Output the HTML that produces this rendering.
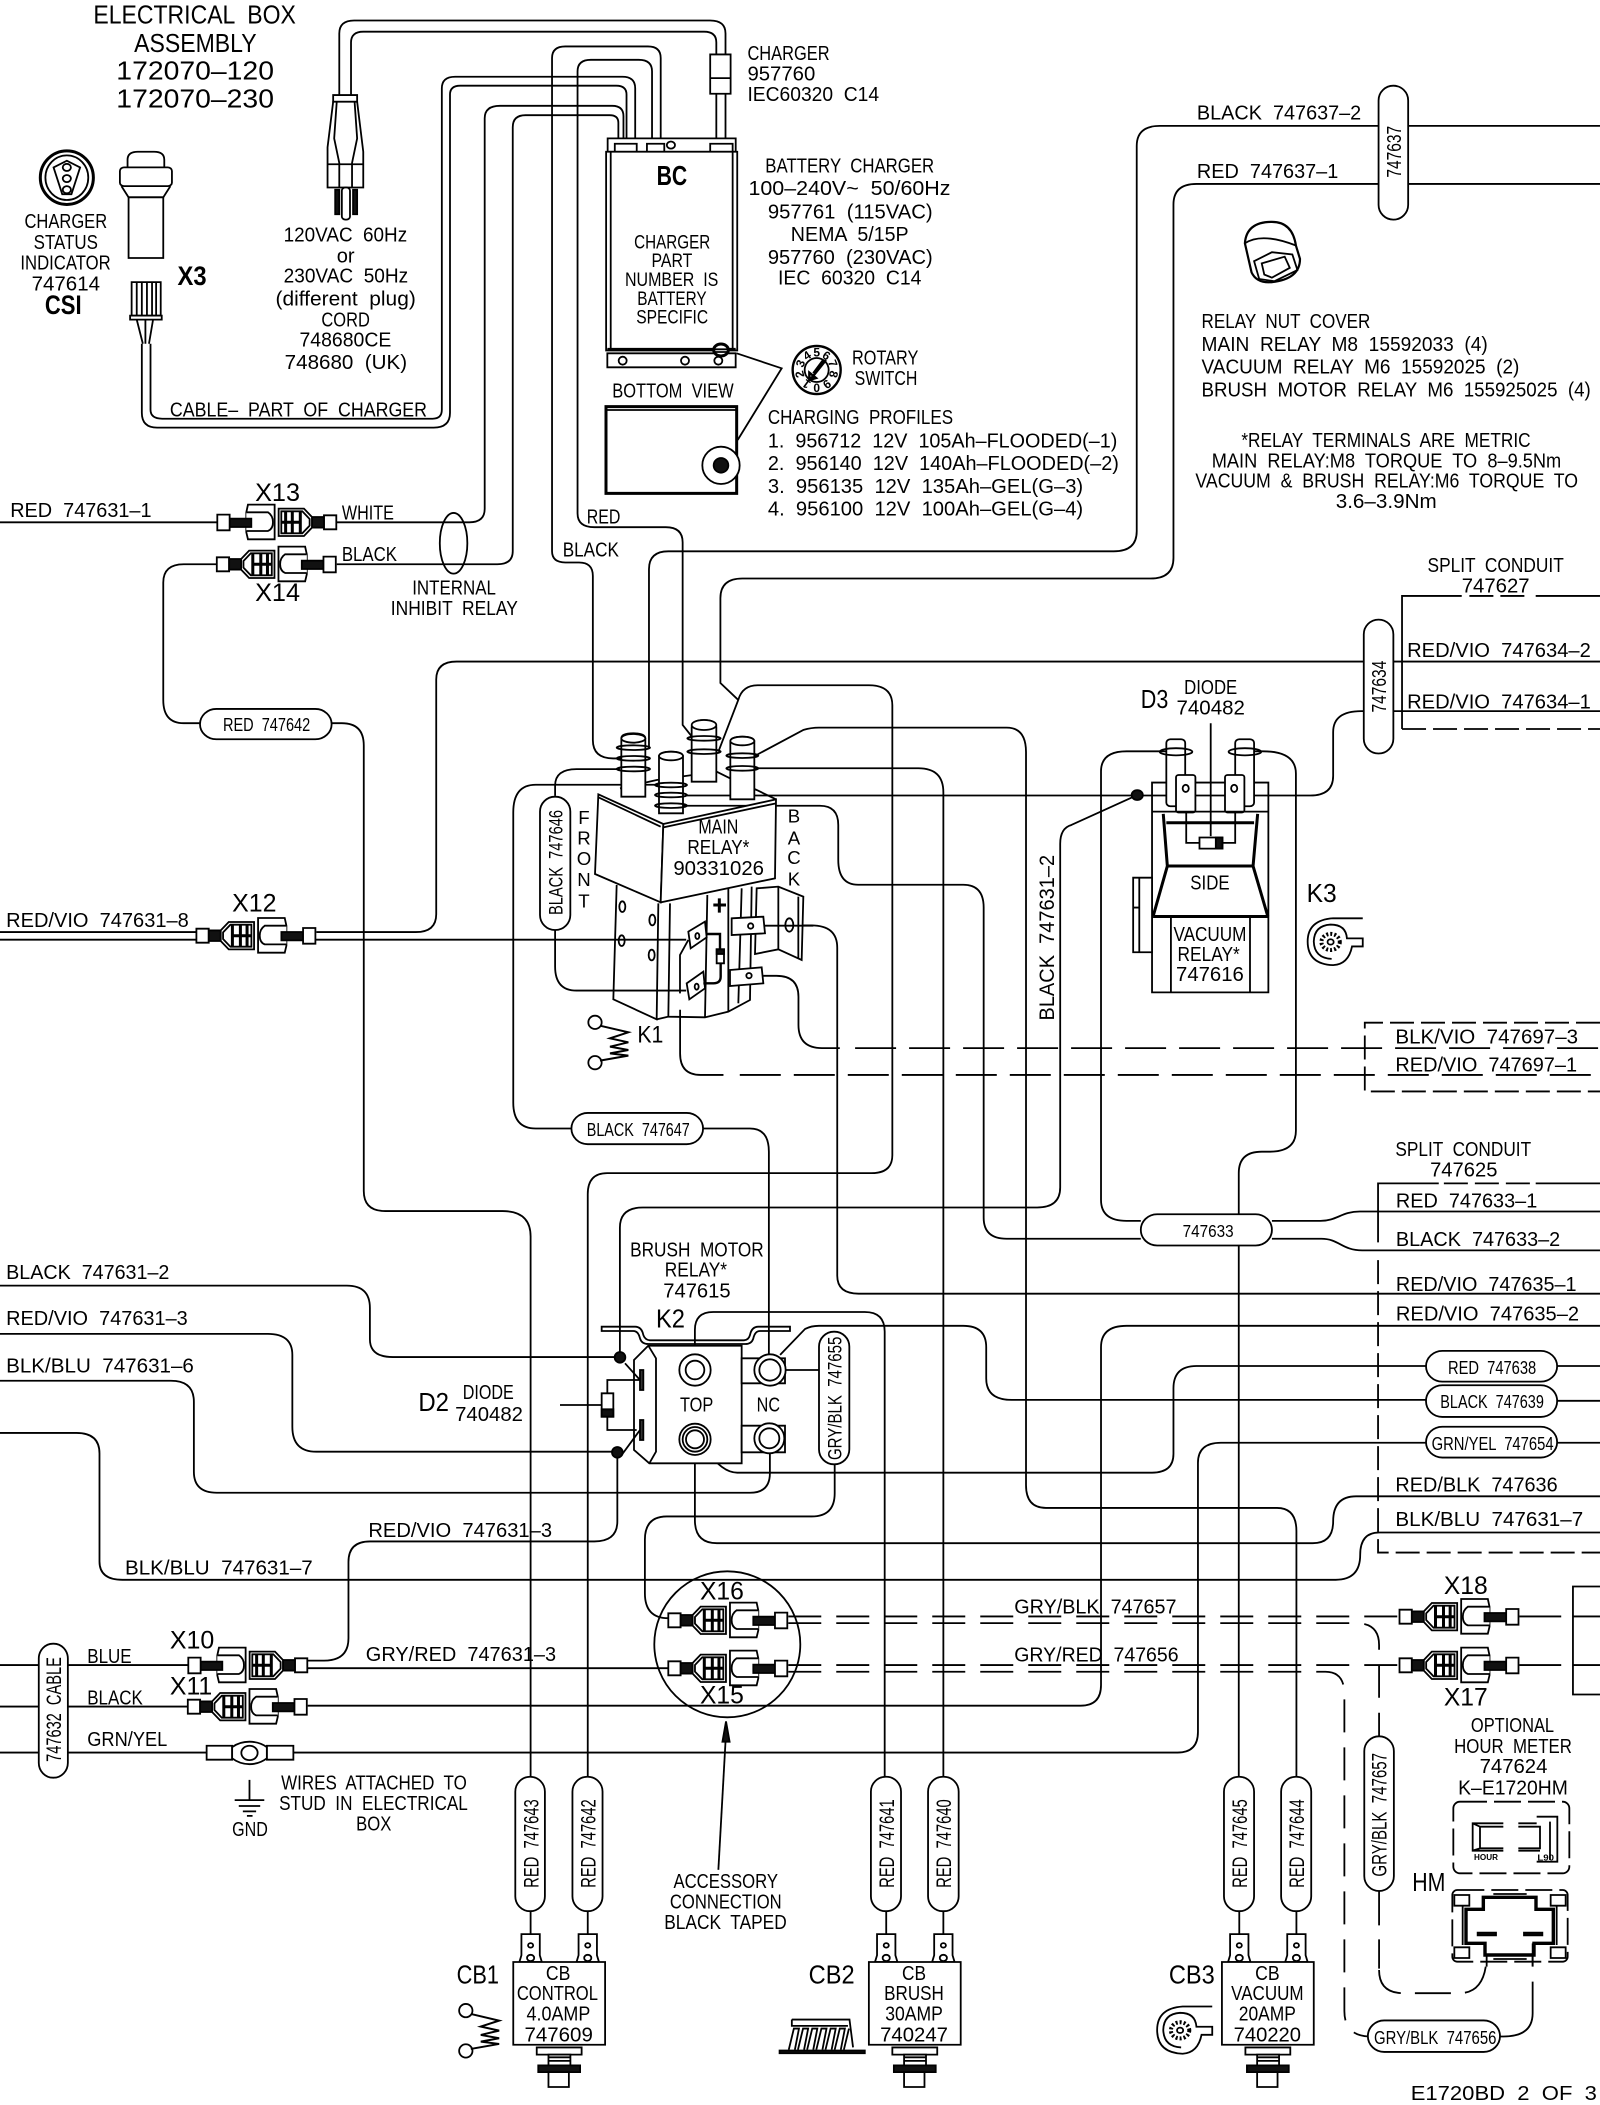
<!DOCTYPE html>
<html><head><meta charset="utf-8"><title>E1720BD wiring diagram</title>
<style>
html,body{margin:0;padding:0;background:#fff}
svg{display:block}
path,rect,ellipse,circle,line,polygon,polyline{vector-effect:non-scaling-stroke}
path,polyline,line{fill:none}
path,rect,ellipse,circle,line,polygon,polyline{stroke:#000;stroke-width:1.8}
text{font-family:"Liberation Sans",sans-serif;font-size:46px;fill:#000;stroke:none;white-space:pre}
.w{fill:#fff}
.n{fill:none}
.k{fill:#111}
.t{stroke-width:3}
.d path,path.d{stroke-dasharray:33 15}
path.s{stroke-dasharray:24 7}
</style></head><body>
<svg xmlns="http://www.w3.org/2000/svg" width="1600" height="2105" viewBox="0 0 1600 2105">
<defs>
<g id="conn">
<rect class="w" x="0" y="-21" width="37" height="42"/>
<rect class="k" x="37" y="-16" width="36" height="32"/>
<polygon class="w" points="73,-16 97,-41 173,-41 173,41 97,41 73,16"/>
<polygon class="n" points="80,-10 102,-33 165,-33 165,33 102,33 80,10"/>
<path class="t" d="M108 -33V33M132 -33V33M152 -33V33M108 0H165"/>
<polygon class="w" points="185,-53 265,-53 270,-30 270,30 265,51 185,51"/>
<path class="w" d="M270 -30H205Q190 -20 190 0Q190 20 205 26H270"/>
<rect class="k" x="255" y="-11" width="65" height="25"/>
<rect class="w" x="320" y="-23" width="37" height="47"/>
</g>
<g id="coil">
<circle class="w" cx="0" cy="0" r="20"/><circle class="w" cx="0" cy="121" r="20"/>
<path d="M15 10L100 30L45 48L100 60L45 73L100 83L45 93L100 100L15 115" style="stroke-width:2"/>
</g>
<g id="bl">
<path d="M1103 489H1045Q995 493 995 541Q995 592 1045 594Q1075 592 1082 552H1103V534H1072Q1070 503 1040 503Q1008 505 1007 541Q1008 578 1042 580"/>
<circle class="n" cx="1040" cy="542" r="18" style="stroke-width:4;stroke-dasharray:2 2"/>
<circle class="w" cx="1040" cy="542" r="6"/>
</g>
<g id="cb">
<path d="M34 1137V1188M146 1137V1188"/>
<polygon class="w" points="16,1188 52,1188 52,1235 56,1250 12,1250 16,1235"/>
<polygon class="w" points="128,1188 164,1188 164,1235 168,1250 124,1250 128,1235"/>
<circle class="w" cx="34" cy="1213" r="5"/><circle class="w" cx="146" cy="1213" r="5"/>
<circle class="w" cx="34" cy="1241" r="7"/><circle class="w" cx="146" cy="1241" r="7"/>
<rect class="w" x="0" y="1250" width="180" height="184"/>
<rect class="w" x="46" y="1440" width="88" height="16"/>
<rect class="w" x="69" y="1456" width="43" height="24"/>
<path d="M69 1462H112M69 1470H112"/>
<rect class="k" x="49" y="1480" width="82" height="15"/>
<rect class="w" x="69" y="1495" width="40" height="33"/>
</g>
</defs>

<!-- wires in zoom-space -->
<g transform="scale(.5102,.4464)">
<path d="M665 213V75Q665 46 694 46H1392Q1422 46 1422 75V122"/>
<path d="M688 213V95Q688 71 712 71H1380Q1404 71 1404 95V122"/>
<path d="M1404 210V320M1422 210V320"/>
<path d="M295 770V918Q295 938 318 938H848Q866 938 866 918V198Q866 172 892 172H1220Q1245 172 1245 198V322"/>
<path d="M278 770V925Q278 958 308 958H850Q882 958 882 925V212Q882 192 902 192H1208Q1228 192 1228 212V322"/>
<path d="M660 1170H920Q950 1170 950 1140V265Q950 237 980 237H1200Q1222 237 1222 260V322"/>
<path d="M660 1264H975Q1005 1264 1005 1235V285Q1005 258 1030 258H1195Q1212 258 1212 275V322"/>
<path d="M1295 322V130Q1295 104 1270 104H1108Q1082 104 1082 130V1235Q1082 1260 1108 1260H1135Q1162 1260 1162 1290V1658Q1162 1699 1202 1699H1218"/>
<path d="M1278 322V160Q1278 134 1252 134H1158Q1132 134 1132 160V1150Q1132 1181 1165 1181H1305Q1338 1181 1338 1215V1624L1356 1650"/>
<path d="M2702 282H2273Q2228 282 2228 327V1190Q2228 1235 2183 1235H1310Q1272 1235 1272 1275V1678"/>
<path d="M2760 282H3136M2760 412H3136"/>
<path d="M2702 412H2345Q2300 412 2300 458V1250Q2300 1296 2255 1296H1455Q1412 1296 1412 1340V1530L1447 1568"/>
<path d="M1408 1684L1447 1568Q1455 1535 1485 1535H1703Q1749 1535 1749 1580V2588Q1749 2628 1708 2628H1190Q1152 2628 1152 2675V3980"/>
<path d="M0 1170H425"/>
<path d="M425 1264H360Q320 1264 320 1305V1568Q320 1620 360 1620H392"/>
<path d="M650 1620H670Q713 1620 713 1670V2668Q713 2713 755 2713H985Q1040 2713 1040 2770V3980"/>
<path d="M620 2088H815Q855 2088 855 2048V1522Q855 1482 895 1482H2673"/>
<path d="M2731 1482H3136M2731 1593H3136"/>
<path d="M0 2088H385M0 2105H385M618 2105H1345"/>
<path d="M1088 1783V1760Q1088 1723 1130 1723H1215"/>
<path d="M1088 2083V2165Q1088 2219 1130 2219H1345"/>
<path d="M1120 2528H1050Q1006 2528 1006 2470V1820Q1006 1758 1050 1758H1290"/>
<path d="M1378 2528H1470Q1507 2528 1507 2580V3040"/>
<path d="M1480 1693L1575 1635Q1590 1630 1605 1630H1973Q2011 1630 2011 1685V3327Q2011 3378 2050 3378H2503Q2541 3378 2541 3430V3980"/>
<path d="M1480 1721H1800Q1849 1721 1849 1775V3980"/>
<path d="M1343 1782H2568Q2613 1782 2613 1738V1640Q2613 1593 2668 1593H2673"/>
<path d="M1339 1805H1607Q1643 1805 1643 1848V1926Q1643 1982 1682 1982H1888Q1928 1982 1928 2033V2728Q1928 2775 1973 2775H2236"/>
<path d="M2236 2735H2208Q2158 2735 2158 2688V1728Q2158 1683 2208 1683H2285"/>
<path d="M2448 1683H2475Q2540 1683 2540 1733V2533Q2540 2580 2488 2580H2473Q2428 2580 2428 2628V3980"/>
<path d="M2493 2735H2588C2620 2735 2630 2714 2665 2714H3136"/>
<path d="M2493 2775H2590C2625 2775 2630 2801 2670 2801H3136"/>
<path d="M1499 2073H1590Q1641 2073 1641 2123V2858Q1641 2898 1683 2898H3136"/>
<path d="M1496 2186H1522Q1565 2186 1565 2233V2296Q1565 2348 1611 2348H1646"/>
<path d="M1333 2262V2360Q1333 2408 1373 2408H1418"/>
<path class="d" style="stroke-dasharray:41 13" d="M1676 2348H3136"/>
<path class="d" style="stroke-dasharray:41 13" d="M1450 2408H3136"/>
<path class="s" d="M3136 2291H2675V2445H3136"/>
<path d="M2748 1437V1335H2865M3010 1335H3136"/>
<path class="s" d="M2748 1633H3136"/>
<path class="s" d="M2880 1335H3000"/>
<path d="M2701 2783V2651H2820M3010 2651H3136"/>
<path class="s" d="M2701 2823V3478H3136"/>
<path class="s" d="M2830 2651H3000"/>
<path d="M2748 1437V1633"/>
<path d="M0 2880H680Q725 2880 725 2930V3000Q725 3040 770 3040H1215"/>
<path d="M1215 3040V2750Q1215 2705 1260 2705H2033Q2078 2705 2078 2660V1890Q2078 1855 2100 1848L2229 1781"/>
<path d="M0 2988H525Q573 2988 573 3035V3196Q573 3252 620 3252H1210"/>
<path d="M1210 3252V3408Q1210 3453 1165 3453H725Q683 3453 683 3499V3670Q683 3720 635 3720H603"/>
<path d="M0 3093H335Q380 3093 380 3140V3297Q380 3344 425 3344H1470Q1509 3344 1509 3300V3255"/>
<path d="M0 3210H150Q195 3210 195 3256V3498Q195 3539 240 3539H2618Q2666 3539 2666 3483Q2666 3433 2703 3433H3136"/>
<path d="M1362 3255V3405Q1362 3457 1405 3457H2573Q2613 3457 2613 3408Q2613 3352 2658 3352H3136"/>
<path d="M1385 3248Q1415 3299 1445 3299H2258Q2300 3299 2300 3257V3110Q2300 3060 2345 3060H2795"/>
<path d="M3052 3060H3136M3052 3138H3136M3052 3232H3136"/>
<path d="M1362 3035V2979Q1362 2939 1398 2939H1695Q1734 2939 1734 2983V3980"/>
<path d="M1529 3035L1578 2977Q1590 2970 1605 2970H1888Q1933 2970 1933 3018V3088Q1933 3136 1983 3136H2795"/>
<path d="M3136 2970H2208Q2158 2970 2158 3018V3775Q2158 3821 2118 3821H603"/>
<path d="M575 3926H2308Q2348 3926 2348 3880V3277Q2348 3232 2393 3232H2795"/>
<path d="M0 3730H76M133 3730H368M0 3823H76M133 3823H368M0 3926H76M133 3926H405"/>
<path d="M603 3737H1310"/>
<path d="M1636 3280V3345Q1636 3397 1591 3397H1307Q1264 3397 1264 3449V3569Q1264 3625 1310 3625"/>
<path class="d" d="M1545 3621H2743"/>
<path class="d" d="M1545 3636H2658Q2703 3636 2703 3685V3890"/>
<path class="d" d="M1545 3730H2743"/>
<path class="d" d="M1545 3745H2598Q2635 3745 2635 3795V4505Q2635 4560 2683 4562"/>
<path d="M2978 3621H3060M3083 3621H3136M2978 3730H3060M3083 3730H3136"/>
<path d="M3136 3554H3083V3796H3136"/>
<path class="d" style="stroke-dasharray:34 14" d="M2703 4237V4410"/>
<path class="d" style="stroke-dasharray:36 14" d="M2703 4413Q2703 4465 2751 4465H2860Q2914 4465 2914 4375"/>
<path d="M3004 4375V4405"/>
<path d="M3004 4439V4510Q3004 4562 2947 4562H2940"/>
</g>

<!-- top-left quadrant components -->
<g transform="scale(.5102,.4464)">
<rect class="w" x="1392" y="122" width="40" height="88"/><path d="M1392 175H1432"/>
<rect class="w" x="653" y="213" width="47" height="15"/>
<path class="w" d="M653 228L642 330V420H712V340L700 228Z"/>
<path d="M660 228L655 310L665 365V420M695 228L700 310L690 365V420M642 368H712"/>
<rect class="k" x="657" y="425" width="8" height="55"/><rect class="k" x="692" y="425" width="8" height="55"/>
<rect class="w" x="670" y="420" width="16" height="72" rx="7"/>
<ellipse class="n t" cx="131" cy="398" rx="52" ry="60"/><ellipse class="n" cx="131" cy="398" rx="42" ry="50"/>
<path d="M105 375L131 360L157 375L140 435H122Z"/>
<circle class="n" cx="131" cy="375" r="8"/><circle class="n" cx="131" cy="400" r="8"/><circle class="n" cx="131" cy="425" r="8"/>
<path d="M250 375V358Q250 340 270 340H302Q322 340 322 358V375Z"/>
<rect class="w" x="235" y="375" width="102" height="42" rx="8"/>
<path d="M238 417L252 442H320L334 417"/>
<rect class="w" x="252" y="442" width="68" height="136"/>
<rect class="w" x="258" y="632" width="57" height="75"/>
<path d="M268 632V707M278 632V707M288 632V707M298 632V707M306 632V707"/>
<rect class="w" x="255" y="707" width="62" height="9"/>
<path d="M268 716L280 770M285 716V770M300 716L292 770"/>
<rect class="w" x="1191" y="310" width="251" height="30"/>
<rect class="w" x="1205" y="322" width="43" height="18"/><rect class="w" x="1268" y="322" width="34" height="18"/><rect class="w" x="1392" y="322" width="44" height="18"/>
<circle class="w" cx="1315" cy="325" r="8"/>
<rect class="w" x="1188" y="340" width="257" height="445"/>
<path d="M1197 340V785M1436 340V785"/>
<ellipse class="n" cx="889" cy="1217" rx="27" ry="68"/>
</g>

<!-- charger bottom + rotary -->
<g transform="translate(580,320) scale(.33333)">
<rect class="w" x="82" y="100" width="385" height="42"/>
<path d="M82 88H467" class="t"/>
<circle class="w" cx="128" cy="122" r="12"/><circle class="w" cx="315" cy="122" r="12"/><circle class="w" cx="415" cy="122" r="12"/>
<ellipse class="w t" cx="423" cy="90" rx="22" ry="18"/><path d="M403 88H443M403 96H443"/>
<path d="M470 100L605 145L473 360"/>
<rect class="n" x="78" y="260" width="392" height="260" style="stroke-width:3"/>
<path d="M78 270H470"/>
<circle class="w" cx="423" cy="436" r="56"/><circle class="k" cx="423" cy="436" r="22"/>
<g transform="translate(710,150)">
<circle class="w" r="72" style="stroke-width:2.4"/><circle class="n" r="36"/>
<path d="M28 -30L-12 20L-20 26L-8 18M-22 30L-2 24L-22 8Z M20 -30L-10 10" style="stroke-width:2.4"/>
<text transform="rotate(0) translate(0,-40)" text-anchor="middle" style="font-size:36px;font-weight:bold">5</text>
<text transform="rotate(-34) translate(0,-40)" text-anchor="middle" style="font-size:36px;font-weight:bold">4</text>
<text transform="rotate(-68) translate(0,-40)" text-anchor="middle" style="font-size:36px;font-weight:bold">3</text>
<text transform="rotate(-104) translate(0,-40)" text-anchor="middle" style="font-size:36px;font-weight:bold">2</text>
<text transform="rotate(-144) translate(0,-40)" text-anchor="middle" style="font-size:36px;font-weight:bold">1</text>
<text transform="rotate(180) translate(0,-40)" text-anchor="middle" style="font-size:36px;font-weight:bold">0</text>
<text transform="rotate(144) translate(0,-40)" text-anchor="middle" style="font-size:36px;font-weight:bold">9</text>
<text transform="rotate(104) translate(0,-40)" text-anchor="middle" style="font-size:36px;font-weight:bold">8</text>
<text transform="rotate(68) translate(0,-40)" text-anchor="middle" style="font-size:36px;font-weight:bold">7</text>
<text transform="rotate(34) translate(0,-40)" text-anchor="middle" style="font-size:36px;font-weight:bold">6</text>
</g>
</g>

<!-- Q1 text -->
<g transform="scale(.5102,.4464)">
<text x="183" y="53" style="font-size:58px" textLength="397" lengthAdjust="spacingAndGlyphs">ELECTRICAL  BOX</text>
<text x="263" y="116" style="font-size:58px" textLength="240" lengthAdjust="spacingAndGlyphs">ASSEMBLY</text>
<text x="228" y="178" style="font-size:58px" textLength="309" lengthAdjust="spacingAndGlyphs">172070–120</text>
<text x="228" y="241" style="font-size:58px" textLength="309" lengthAdjust="spacingAndGlyphs">172070–230</text>
<text x="48" y="511" textLength="162" lengthAdjust="spacingAndGlyphs">CHARGER</text>
<text x="66" y="558" textLength="126" lengthAdjust="spacingAndGlyphs">STATUS</text>
<text x="40" y="604" textLength="177" lengthAdjust="spacingAndGlyphs">INDICATOR</text>
<text x="62" y="651" textLength="134" lengthAdjust="spacingAndGlyphs">747614</text>
<text x="88" y="703" style="font-size:60px;font-weight:bold" textLength="72" lengthAdjust="spacingAndGlyphs">CSI</text>
<text x="348" y="638" style="font-size:60px;font-weight:bold" textLength="57" lengthAdjust="spacingAndGlyphs">X3</text>
<text x="556" y="541" textLength="242" lengthAdjust="spacingAndGlyphs">120VAC  60Hz</text>
<text x="660" y="588" textLength="35" lengthAdjust="spacingAndGlyphs">or</text>
<text x="556" y="633" textLength="244" lengthAdjust="spacingAndGlyphs">230VAC  50Hz</text>
<text x="540" y="684" textLength="275" lengthAdjust="spacingAndGlyphs">(different  plug)</text>
<text x="630" y="731" textLength="95" lengthAdjust="spacingAndGlyphs">CORD</text>
<text x="587" y="776" textLength="180" lengthAdjust="spacingAndGlyphs">748680CE</text>
<text x="558" y="827" textLength="240" lengthAdjust="spacingAndGlyphs">748680  (UK)</text>
<text x="333" y="933" textLength="504" lengthAdjust="spacingAndGlyphs">CABLE–  PART  OF  CHARGER</text>
<text x="1287" y="415" style="font-size:62px;font-weight:bold" textLength="60" lengthAdjust="spacingAndGlyphs">BC</text>
<text x="1243" y="557" style="font-size:44px" textLength="149" lengthAdjust="spacingAndGlyphs">CHARGER</text>
<text x="1277" y="598" style="font-size:44px" textLength="80" lengthAdjust="spacingAndGlyphs">PART</text>
<text x="1225" y="641" style="font-size:44px" textLength="183" lengthAdjust="spacingAndGlyphs">NUMBER  IS</text>
<text x="1249" y="683" style="font-size:44px" textLength="136" lengthAdjust="spacingAndGlyphs">BATTERY</text>
<text x="1247" y="725" style="font-size:44px" textLength="141" lengthAdjust="spacingAndGlyphs">SPECIFIC</text>
<text x="1200" y="890" textLength="238" lengthAdjust="spacingAndGlyphs">BOTTOM  VIEW</text>
<text x="500" y="1122" style="font-size:56px" textLength="88" lengthAdjust="spacingAndGlyphs">X13</text>
<text x="500" y="1346" style="font-size:56px" textLength="88" lengthAdjust="spacingAndGlyphs">X14</text>
<text x="20" y="1158" textLength="277" lengthAdjust="spacingAndGlyphs">RED  747631–1</text>
<text x="670" y="1164" textLength="102" lengthAdjust="spacingAndGlyphs">WHITE</text>
<text x="670" y="1257" textLength="108" lengthAdjust="spacingAndGlyphs">BLACK</text>
<text x="808" y="1332" textLength="164" lengthAdjust="spacingAndGlyphs">INTERNAL</text>
<text x="766" y="1378" textLength="249" lengthAdjust="spacingAndGlyphs">INHIBIT  RELAY</text>
<text x="1150" y="1173" textLength="66" lengthAdjust="spacingAndGlyphs">RED</text>
<text x="1103" y="1247" textLength="110" lengthAdjust="spacingAndGlyphs">BLACK</text>
<text x="1465" y="134" textLength="161" lengthAdjust="spacingAndGlyphs">CHARGER</text>
<text x="1465" y="180" textLength="133" lengthAdjust="spacingAndGlyphs">957760</text>
<text x="1465" y="226" textLength="258" lengthAdjust="spacingAndGlyphs">IEC60320  C14</text>
<text x="1500" y="386" textLength="331" lengthAdjust="spacingAndGlyphs">BATTERY  CHARGER</text>
<text x="1467" y="437" textLength="396" lengthAdjust="spacingAndGlyphs">100–240V~  50/60Hz</text>
<text x="1505" y="489" textLength="323" lengthAdjust="spacingAndGlyphs">957761  (115VAC)</text>
<text x="1550" y="540" textLength="231" lengthAdjust="spacingAndGlyphs">NEMA  5/15P</text>
<text x="1505" y="591" textLength="323" lengthAdjust="spacingAndGlyphs">957760  (230VAC)</text>
<text x="1525" y="637" textLength="281" lengthAdjust="spacingAndGlyphs">IEC  60320  C14</text>
<text x="1670" y="817" textLength="130" lengthAdjust="spacingAndGlyphs">ROTARY</text>
<text x="1675" y="862" textLength="123" lengthAdjust="spacingAndGlyphs">SWITCH</text>
<text x="1505" y="950" textLength="363" lengthAdjust="spacingAndGlyphs">CHARGING  PROFILES</text>
<text x="1505" y="1002" textLength="685" lengthAdjust="spacingAndGlyphs">1.  956712  12V  105Ah–FLOODED(–1)</text>
<text x="1505" y="1053" textLength="688" lengthAdjust="spacingAndGlyphs">2.  956140  12V  140Ah–FLOODED(–2)</text>
<text x="1505" y="1104" textLength="618" lengthAdjust="spacingAndGlyphs">3.  956135  12V  135Ah–GEL(G–3)</text>
<text x="1505" y="1155" textLength="618" lengthAdjust="spacingAndGlyphs">4.  956100  12V  100Ah–GEL(G–4)</text>
</g>

<!-- Q2 -->
<g transform="translate(800,0) scale(.5102,.4464)">
<rect class="w" x="1134" y="192" width="58" height="300" rx="29" ry="33"/>
<text transform="translate(1178,398) rotate(-90)" style="font-size:40px" textLength="116" lengthAdjust="spacingAndGlyphs">747637</text>
<path class="w" d="M872 545Q875 497 925 497Q965 497 972 550L980 580Q980 625 925 632Q895 635 885 610Z" style="stroke-width:2.2"/>
<path d="M872 545Q905 520 972 550M890 585L925 565L965 570L975 605L930 630L900 625ZM905 590L950 575L960 600L925 622L910 615Z"/>
<text x="778" y="268" textLength="322" lengthAdjust="spacingAndGlyphs">BLACK  747637–2</text>
<text x="778" y="399" textLength="277" lengthAdjust="spacingAndGlyphs">RED  747637–1</text>
<text x="787" y="735" textLength="331" lengthAdjust="spacingAndGlyphs">RELAY  NUT  COVER</text>
<text x="787" y="786" textLength="561" lengthAdjust="spacingAndGlyphs">MAIN  RELAY  M8  15592033  (4)</text>
<text x="787" y="837" textLength="623" lengthAdjust="spacingAndGlyphs">VACUUM  RELAY  M6  15592025  (2)</text>
<text x="787" y="888" textLength="763" lengthAdjust="spacingAndGlyphs">BRUSH  MOTOR  RELAY  M6  155925025  (4)</text>
<text x="865" y="1001" textLength="567" lengthAdjust="spacingAndGlyphs">*RELAY  TERMINALS  ARE  METRIC</text>
<text x="807" y="1047" textLength="685" lengthAdjust="spacingAndGlyphs">MAIN  RELAY:M8  TORQUE  TO  8–9.5Nm</text>
<text x="775" y="1092" textLength="750" lengthAdjust="spacingAndGlyphs">VACUUM  &amp;  BRUSH  RELAY:M6  TORQUE  TO</text>
<text x="1050" y="1138" textLength="198" lengthAdjust="spacingAndGlyphs">3.6–3.9Nm</text>
<text x="1230" y="1281" textLength="267" lengthAdjust="spacingAndGlyphs">SPLIT  CONDUIT</text>
<text x="1297" y="1327" textLength="133" lengthAdjust="spacingAndGlyphs">747627</text>
<text x="1190" y="1472" textLength="360" lengthAdjust="spacingAndGlyphs">RED/VIO  747634–2</text>
<text x="1190" y="1587" textLength="360" lengthAdjust="spacingAndGlyphs">RED/VIO  747634–1</text>
<rect class="w" x="1105" y="1388" width="58" height="300" rx="29" ry="33"/>
<text transform="translate(1149,1596) rotate(-90)" style="font-size:40px" textLength="116" lengthAdjust="spacingAndGlyphs">747634</text>
<text x="753" y="1555" textLength="104" lengthAdjust="spacingAndGlyphs">DIODE</text>
<text x="668" y="1586" style="font-size:58px" textLength="54" lengthAdjust="spacingAndGlyphs">D3</text>
</g>

<!-- Q3 -->
<g transform="translate(0,700) scale(.5102,.4464)">
<rect class="w" x="392" y="20" width="258" height="68" rx="32" ry="34"/>
<text x="437" y="70" style="font-size:42px" textLength="171" lengthAdjust="spacingAndGlyphs">RED  747642</text>
<rect class="w" x="1120" y="925" width="258" height="70" rx="32" ry="35"/>
<text x="1150" y="977" style="font-size:42px" textLength="202" lengthAdjust="spacingAndGlyphs">BLACK  747647</text>
<text x="12" y="508" textLength="358" lengthAdjust="spacingAndGlyphs">RED/VIO  747631–8</text>
<text x="455" y="474" style="font-size:56px" textLength="87" lengthAdjust="spacingAndGlyphs">X12</text>
<text x="12" y="1297" textLength="320" lengthAdjust="spacingAndGlyphs">BLACK  747631–2</text>
<text x="12" y="1400" textLength="356" lengthAdjust="spacingAndGlyphs">RED/VIO  747631–3</text>
<text x="12" y="1506" textLength="368" lengthAdjust="spacingAndGlyphs">BLK/BLU  747631–6</text>
<text x="1235" y="1247" textLength="262" lengthAdjust="spacingAndGlyphs">BRUSH  MOTOR</text>
<text x="1303" y="1292" textLength="122" lengthAdjust="spacingAndGlyphs">RELAY*</text>
<text x="1300" y="1338" textLength="132" lengthAdjust="spacingAndGlyphs">747615</text>
<text x="907" y="1566" textLength="100" lengthAdjust="spacingAndGlyphs">DIODE</text>
</g>

<!-- K1 main relay -->
<g transform="translate(500,700) scale(.33333)">
<path d="M360 265L470 240L650 215L690 235L770 270L828 298"/>
<g>
<path class="w" d="M575 82Q575 60 612 60Q649 60 649 82V245H575Z"/><ellipse class="w" cx="612" cy="75" rx="37" ry="15"/>
<ellipse class="n" cx="612" cy="115" rx="50" ry="7"/><ellipse class="n" cx="612" cy="155" rx="50" ry="7"/>
<path class="w" d="M364 115Q364 100 400 100Q436 100 436 115V290H364Z"/><ellipse class="w" cx="400" cy="115" rx="36" ry="13"/>
<ellipse class="n" cx="400" cy="143" rx="50" ry="7"/><ellipse class="n" cx="400" cy="175" rx="50" ry="7"/><ellipse class="n" cx="400" cy="207" rx="50" ry="7"/>
<path class="w" d="M691 125Q691 110 727 110Q763 110 763 125V298H691Z"/><ellipse class="w" cx="727" cy="123" rx="36" ry="13"/>
<ellipse class="n" cx="727" cy="167" rx="48" ry="7"/><ellipse class="n" cx="727" cy="205" rx="48" ry="7"/>
</g>
<polygon class="w" points="295,283 490,372 482,607 285,522"/>
<polygon class="w" points="490,372 828,298 825,535 482,607"/>
<path d="M295 292L482 380M490 382L828 310"/>
<g>
<path class="w" d="M477 170Q477 155 513 155Q549 155 549 170V340H477Z"/><ellipse class="w" cx="513" cy="168" rx="36" ry="13"/>
<ellipse class="n" cx="513" cy="255" rx="48" ry="7"/><ellipse class="n" cx="513" cy="285" rx="48" ry="7"/><ellipse class="n" cx="513" cy="317" rx="48" ry="7"/>
</g>
<path d="M350 555L340 898L470 958L475 610M510 610L505 950M470 958L505 950L615 952L685 935L750 900L755 560M622 585L615 952M685 565V935M725 565L715 910"/>
<ellipse class="n" cx="367" cy="620" rx="9" ry="16"/><ellipse class="n" cx="457" cy="660" rx="9" ry="16"/><ellipse class="n" cx="365" cy="722" rx="9" ry="16"/><ellipse class="n" cx="455" cy="765" rx="9" ry="16"/>
<path d="M640 615H678M658 595V638" style="stroke-width:3"/>
<polygon class="w" points="770,565 835,560 910,590 905,780 835,748 765,762"/>
<path d="M835 560V748M895 590V775"/>
<ellipse class="n" cx="868" cy="675" rx="12" ry="20"/>
<path d="M795 677H940"/>
<polygon class="w" points="695,655 790,650 795,700 695,705"/><circle class="n" cx="752" cy="678" r="8"/>
<polygon class="w" points="690,810 785,802 790,850 690,858"/><circle class="n" cx="747" cy="827" r="8"/>
<path d="M540 880V765L565 720"/>
<polygon class="w" points="565,695 615,665 620,712 572,745"/><ellipse class="n" cx="592" cy="708" rx="6" ry="9"/>
<polygon class="w" points="560,850 610,815 615,865 568,898"/><ellipse class="n" cx="590" cy="860" rx="6" ry="9"/>
<path d="M620 702H660V750M662 790V830Q662 850 640 850H610" style="stroke-width:2.4"/>
<rect class="w" x="650" y="748" width="22" height="42"/><rect class="k" x="650" y="748" width="22" height="14"/>
<text x="595" y="400" style="font-size:62px" textLength="120" lengthAdjust="spacingAndGlyphs">MAIN</text>
<text x="562" y="462" style="font-size:62px" textLength="186" lengthAdjust="spacingAndGlyphs">RELAY*</text>
<text x="520" y="525" style="font-size:62px" textLength="272" lengthAdjust="spacingAndGlyphs">90331026</text>
<rect class="w" x="120" y="290" width="91" height="400" rx="45" ry="45"/>
<text transform="translate(187,645) rotate(-90)" style="font-size:58px" textLength="315" lengthAdjust="spacingAndGlyphs">BLACK  747646</text>
<text x="252" y="372" text-anchor="middle" style="font-size:56px">F</text>
<text x="252" y="433" text-anchor="middle" style="font-size:56px">R</text>
<text x="252" y="495" text-anchor="middle" style="font-size:56px">O</text>
<text x="252" y="558" text-anchor="middle" style="font-size:56px">N</text>
<text x="252" y="622" text-anchor="middle" style="font-size:56px">T</text>
<text x="882" y="368" text-anchor="middle" style="font-size:56px">B</text>
<text x="882" y="433" text-anchor="middle" style="font-size:56px">A</text>
<text x="882" y="492" text-anchor="middle" style="font-size:56px">C</text>
<text x="882" y="556" text-anchor="middle" style="font-size:56px">K</text>
<use href="#coil" transform="translate(285,967)"/>
<text x="412" y="1027" style="font-size:72px" textLength="78" lengthAdjust="spacingAndGlyphs">K1</text>
</g>

<!-- Q4 -->
<g transform="translate(800,700) scale(.5102,.4464)">
<rect class="n" x="690" y="185" width="228" height="470"/>
<rect class="w" x="718" y="88" width="37" height="150" rx="8"/><rect class="w" x="853" y="88" width="37" height="150" rx="8"/>
<ellipse class="n" cx="737" cy="116" rx="32" ry="8"/><ellipse class="n" cx="872" cy="116" rx="32" ry="8"/>
<rect class="w" x="737" y="168" width="38" height="84" rx="5"/><rect class="w" x="833" y="168" width="38" height="84" rx="5"/>
<ellipse class="n" cx="756" cy="198" rx="6" ry="8"/><ellipse class="n" cx="851" cy="198" rx="6" ry="8"/>
<path d="M690 250H918"/>
<path class="t" d="M712 255L720 372L692 485M897 255L888 372L917 485M718 275H890M720 372H888M692 485H917"/>
<path d="M727 485V655M882 485V655M757 252V320H783M853 252V320H828M805 52V305"/>
<rect class="w" x="783" y="308" width="45" height="25"/><rect class="k" x="815" y="308" width="13" height="25"/>
<rect class="w" x="653" y="398" width="37" height="167"/><path d="M665 398V565M653 465H665"/>
<circle class="k" cx="661" cy="213" r="11"/>
<use href="#bl"/>
<rect class="w" x="668" y="1152" width="257" height="70" rx="32" ry="35"/>
<text x="750" y="1203" style="font-size:40px" textLength="100" lengthAdjust="spacingAndGlyphs">747633</text>
<rect class="w" x="1227" y="1458" width="257" height="69" rx="32" ry="35"/>
<text x="1270" y="1510" style="font-size:42px" textLength="173" lengthAdjust="spacingAndGlyphs">RED  747638</text>
<rect class="w" x="1227" y="1535" width="257" height="71" rx="32" ry="35"/>
<rect class="w" x="1227" y="1628" width="257" height="69" rx="32" ry="35"/>
<text transform="translate(498,718) rotate(-90)" style="font-size:42px" textLength="371" lengthAdjust="spacingAndGlyphs">BLACK  747631–2</text>
<text x="738" y="32" textLength="134" lengthAdjust="spacingAndGlyphs">740482</text>
<text x="765" y="424" textLength="77" lengthAdjust="spacingAndGlyphs">SIDE</text>
<text x="732" y="540" textLength="143" lengthAdjust="spacingAndGlyphs">VACUUM</text>
<text x="740" y="585" textLength="122" lengthAdjust="spacingAndGlyphs">RELAY*</text>
<text x="737" y="630" textLength="133" lengthAdjust="spacingAndGlyphs">747616</text>
<text x="993" y="452" style="font-size:58px" textLength="59" lengthAdjust="spacingAndGlyphs">K3</text>
<text x="1167" y="770" textLength="358" lengthAdjust="spacingAndGlyphs">BLK/VIO  747697–3</text>
<text x="1167" y="832" textLength="356" lengthAdjust="spacingAndGlyphs">RED/VIO  747697–1</text>
<text x="1167" y="1022" textLength="266" lengthAdjust="spacingAndGlyphs">SPLIT  CONDUIT</text>
<text x="1235" y="1068" textLength="132" lengthAdjust="spacingAndGlyphs">747625</text>
<text x="1168" y="1137" textLength="277" lengthAdjust="spacingAndGlyphs">RED  747633–1</text>
<text x="1168" y="1223" textLength="322" lengthAdjust="spacingAndGlyphs">BLACK  747633–2</text>
<text x="1168" y="1324" textLength="354" lengthAdjust="spacingAndGlyphs">RED/VIO  747635–1</text>
<text x="1168" y="1390" textLength="359" lengthAdjust="spacingAndGlyphs">RED/VIO  747635–2</text>
<text x="1255" y="1586" style="font-size:42px" textLength="203" lengthAdjust="spacingAndGlyphs">BLACK  747639</text>
<text x="1238" y="1680" style="font-size:42px" textLength="239" lengthAdjust="spacingAndGlyphs">GRN/YEL  747654</text>
</g>

<!-- K2 brush relay -->
<g transform="translate(560,1280) scale(.33333)">
<path d="M125 140H225Q245 140 250 165Q255 180 270 181H552Q566 180 570 165Q575 140 595 140H690V153H600Q585 153 580 175Q575 192 556 192H265Q245 192 240 175Q235 153 220 153H125Z"/>
<polygon class="w" points="265,197 222,240 222,510 268,550 545,550 545,197"/>
<path d="M265 197L288 235V515L268 550"/>
<rect class="w" x="545" y="235" width="130" height="75"/>
<rect class="w" x="545" y="437" width="130" height="80"/>
<circle class="w" cx="405" cy="270" r="47"/><circle class="w" cx="405" cy="270" r="28"/>
<circle class="w" cx="630" cy="270" r="47"/><circle class="w" cx="630" cy="270" r="32"/>
<circle class="w" cx="405" cy="478" r="47"/><circle class="w" cx="405" cy="478" r="37"/><circle class="w" cx="405" cy="478" r="27"/>
<circle class="w" cx="628" cy="475" r="45"/><circle class="w" cx="628" cy="475" r="30"/>
<path d="M675 270H777"/>
<rect fill="#333" x="240" y="270" width="10" height="60"/><rect fill="#333" x="240" y="420" width="10" height="60"/>
<circle class="k" cx="180" cy="232" r="16"/><circle class="k" cx="172" cy="517" r="16"/>
<path d="M195 250L240 300M185 525L240 450M142 340V300H240M142 410V450H230M0 375H125"/>
<rect class="w" x="125" y="340" width="35" height="70"/><rect class="k" x="125" y="388" width="35" height="22"/>
<rect class="w" x="777" y="155" width="91" height="398" rx="45" ry="45"/>
<text transform="translate(845,540) rotate(-90)" style="font-size:58px" textLength="370" lengthAdjust="spacingAndGlyphs">GRY/BLK  747655</text>
<text x="288" y="143" style="font-size:78px" textLength="87" lengthAdjust="spacingAndGlyphs">K2</text>
<text x="360" y="395" style="font-size:62px" textLength="100" lengthAdjust="spacingAndGlyphs">TOP</text>
<text x="590" y="395" style="font-size:62px" textLength="70" lengthAdjust="spacingAndGlyphs">NC</text>
</g>

<!-- connectors -->
<use href="#conn" transform="translate(336.3,522.3) scale(-.33333,.33333)"/>
<use href="#conn" transform="translate(216.8,564.3) scale(.33333)"/>
<use href="#conn" transform="translate(196.4,935.7) scale(.33333)"/>
<use href="#conn" transform="translate(307.3,1665.3) scale(-.33333,.33333)"/>
<use href="#conn" transform="translate(187.8,1706.7) scale(.33333)"/>
<use href="#conn" transform="translate(668.3,1620.3) scale(.33333)"/>
<use href="#conn" transform="translate(668.3,1668.3) scale(.33333)"/>
<use href="#conn" transform="translate(1399.5,1616.7) scale(.33333)"/>
<use href="#conn" transform="translate(1399.5,1665.3) scale(.33333)"/>
<circle class="n" cx="727.3" cy="1644.3" r="73" style="stroke-width:1.8"/>

<!-- Q5 -->
<g transform="translate(0,1400) scale(.5102,.4496)">
<rect class="w" x="76" y="542" width="57" height="298" rx="28" ry="33"/>
<text transform="translate(120,805) rotate(-90)" style="font-size:42px" textLength="233" lengthAdjust="spacingAndGlyphs">747632  CABLE</text>
<rect class="w" x="405" y="769" width="50" height="31"/><rect class="w" x="523" y="769" width="52" height="31"/>
<path class="w" d="M455 772Q470 760 489 760Q508 760 523 772V797Q508 810 489 810Q470 810 455 797Z"/>
<circle class="n" cx="489" cy="785" r="16"/>
<path d="M489 845V888M460 890H518M468 903H510M476 915H502M484 925H495"/>
<path d="M1423 740L1408 1045"/>
<polygon class="k" points="1423,715 1430,760 1416,760"/>
<text x="722" y="305" textLength="360" lengthAdjust="spacingAndGlyphs">RED/VIO  747631–3</text>
<text x="245" y="388" textLength="368" lengthAdjust="spacingAndGlyphs">BLK/BLU  747631–7</text>
<text x="171" y="585" textLength="87" lengthAdjust="spacingAndGlyphs">BLUE</text>
<text x="171" y="677" textLength="109" lengthAdjust="spacingAndGlyphs">BLACK</text>
<text x="171" y="770" textLength="157" lengthAdjust="spacingAndGlyphs">GRN/YEL</text>
<text x="333" y="553" style="font-size:56px" textLength="87" lengthAdjust="spacingAndGlyphs">X10</text>
<text x="333" y="655" style="font-size:56px" textLength="83" lengthAdjust="spacingAndGlyphs">X11</text>
<text x="717" y="580" textLength="373" lengthAdjust="spacingAndGlyphs">GRY/RED  747631–3</text>
<text x="1372" y="444" style="font-size:56px" textLength="86" lengthAdjust="spacingAndGlyphs">X16</text>
<text x="1372" y="675" style="font-size:56px" textLength="86" lengthAdjust="spacingAndGlyphs">X15</text>
<text x="551" y="866" textLength="364" lengthAdjust="spacingAndGlyphs">WIRES  ATTACHED  TO</text>
<text x="547" y="912" textLength="370" lengthAdjust="spacingAndGlyphs">STUD  IN  ELECTRICAL</text>
<text x="698" y="958" textLength="69" lengthAdjust="spacingAndGlyphs">BOX</text>
<text x="455" y="970" textLength="70" lengthAdjust="spacingAndGlyphs">GND</text>
<text x="1320" y="1085" textLength="205" lengthAdjust="spacingAndGlyphs">ACCESSORY</text>
<text x="1313" y="1131" textLength="219" lengthAdjust="spacingAndGlyphs">CONNECTION</text>
<text x="1302" y="1177" textLength="240" lengthAdjust="spacingAndGlyphs">BLACK  TAPED</text>
<text x="820" y="25" style="font-size:58px" textLength="60" lengthAdjust="spacingAndGlyphs">D2</text>
<text x="892" y="47" textLength="133" lengthAdjust="spacingAndGlyphs">740482</text>
<rect class="w" x="1010" y="838" width="58" height="299" rx="29" ry="33"/>
<text transform="translate(1055,1085) rotate(-90)" style="font-size:42px" textLength="197" lengthAdjust="spacingAndGlyphs">RED  747643</text>
<rect class="w" x="1122" y="838" width="59" height="299" rx="29" ry="33"/>
<text transform="translate(1167,1085) rotate(-90)" style="font-size:42px" textLength="197" lengthAdjust="spacingAndGlyphs">RED  747642</text>
<use href="#cb" transform="translate(1006,0)"/>
<text x="1070" y="1290" textLength="48" lengthAdjust="spacingAndGlyphs">CB</text>
<text x="1013" y="1335" textLength="159" lengthAdjust="spacingAndGlyphs">CONTROL</text>
<text x="1032" y="1380" textLength="125" lengthAdjust="spacingAndGlyphs">4.0AMP</text>
<text x="1028" y="1427" textLength="134" lengthAdjust="spacingAndGlyphs">747609</text>
<text x="895" y="1298" style="font-size:58px" textLength="83" lengthAdjust="spacingAndGlyphs">CB1</text>
<path d="M1552 1378H1665L1672 1440M1552 1378V1392H1662M1546 1445L1556 1398H1566L1558 1445M1564 1445L1574 1398H1584L1576 1445M1582 1445L1592 1398H1602L1594 1445M1600 1445L1610 1398H1620L1612 1445M1618 1445L1628 1398H1638L1630 1445M1636 1445L1646 1398H1656L1648 1445M1654 1445L1664 1398"/>
<rect class="k" x="1528" y="1447" width="167" height="6"/>
<rect class="w" x="1707" y="838" width="59" height="299" rx="29" ry="33"/>
<text transform="translate(1752,1085) rotate(-90)" style="font-size:42px" textLength="197" lengthAdjust="spacingAndGlyphs">RED  747641</text>
<rect class="w" x="1819" y="838" width="60" height="299" rx="29" ry="33"/>
<text transform="translate(1864,1085) rotate(-90)" style="font-size:42px" textLength="197" lengthAdjust="spacingAndGlyphs">RED  747640</text>
<use href="#cb" transform="translate(1703,0)"/>
<rect class="w" x="2399" y="838" width="59" height="299" rx="29" ry="33"/>
<text transform="translate(2444,1085) rotate(-90)" style="font-size:42px" textLength="197" lengthAdjust="spacingAndGlyphs">RED  747645</text>
<rect class="w" x="2511" y="838" width="59" height="299" rx="29" ry="33"/>
<text transform="translate(2556,1085) rotate(-90)" style="font-size:42px" textLength="197" lengthAdjust="spacingAndGlyphs">RED  747644</text>
<use href="#cb" transform="translate(2395,0)"/>
</g>
<use href="#coil" transform="translate(465.8,2010.6) scale(.33333)"/>

<!-- Q6 -->
<g transform="translate(800,1400) scale(.5102,.4496)">
<text x="200" y="1290" textLength="47" lengthAdjust="spacingAndGlyphs">CB</text>
<text x="165" y="1335" textLength="117" lengthAdjust="spacingAndGlyphs">BRUSH</text>
<text x="167" y="1380" textLength="113" lengthAdjust="spacingAndGlyphs">30AMP</text>
<text x="157" y="1427" textLength="133" lengthAdjust="spacingAndGlyphs">740247</text>
<text x="17" y="1298" style="font-size:58px" textLength="90" lengthAdjust="spacingAndGlyphs">CB2</text>
<text x="892" y="1290" textLength="48" lengthAdjust="spacingAndGlyphs">CB</text>
<text x="845" y="1335" textLength="142" lengthAdjust="spacingAndGlyphs">VACUUM</text>
<text x="860" y="1380" textLength="112" lengthAdjust="spacingAndGlyphs">20AMP</text>
<text x="850" y="1427" textLength="132" lengthAdjust="spacingAndGlyphs">740220</text>
<text x="723" y="1298" style="font-size:58px" textLength="90" lengthAdjust="spacingAndGlyphs">CB3</text>
<use href="#bl" transform="translate(-295,860)"/>
<text x="420" y="475" textLength="318" lengthAdjust="spacingAndGlyphs">GRY/BLK  747657</text>
<text x="420" y="582" textLength="322" lengthAdjust="spacingAndGlyphs">GRY/RED  747656</text>
<text x="1167" y="203" textLength="318" lengthAdjust="spacingAndGlyphs">RED/BLK  747636</text>
<text x="1167" y="280" textLength="368" lengthAdjust="spacingAndGlyphs">BLK/BLU  747631–7</text>
<text x="1262" y="431" style="font-size:56px" textLength="86" lengthAdjust="spacingAndGlyphs">X18</text>
<text x="1262" y="680" style="font-size:56px" textLength="86" lengthAdjust="spacingAndGlyphs">X17</text>
<text x="1315" y="738" textLength="163" lengthAdjust="spacingAndGlyphs">OPTIONAL</text>
<text x="1282" y="785" textLength="231" lengthAdjust="spacingAndGlyphs">HOUR  METER</text>
<text x="1332" y="830" textLength="133" lengthAdjust="spacingAndGlyphs">747624</text>
<text x="1290" y="877" textLength="215" lengthAdjust="spacingAndGlyphs">K–E1720HM</text>
<text x="1200" y="1092" style="font-size:58px" textLength="65" lengthAdjust="spacingAndGlyphs">HM</text>
<text x="1197" y="1557" textLength="365" lengthAdjust="spacingAndGlyphs">E1720BD  2  OF  3</text>
<rect class="w" x="1106" y="748" width="58" height="344" rx="29" ry="33"/>
<text transform="translate(1150,1060) rotate(-90)" style="font-size:42px" textLength="275" lengthAdjust="spacingAndGlyphs">GRY/BLK  747657</text>
<rect class="w" x="1113" y="1380" width="259" height="70" rx="32" ry="35"/>
<text x="1125" y="1432" style="font-size:42px" textLength="240" lengthAdjust="spacingAndGlyphs">GRY/BLK  747656</text>
</g>

<!-- Hour meter -->
<g transform="translate(1340,1780) scale(.33333)">
<rect class="n" x="340" y="65" width="348" height="215" rx="20" style="stroke-dasharray:27 7"/>
<path d="M490 130H398V212H490M490 140H420V205H490M398 130L420 140M398 212L420 205M535 130H590M535 140H600V205H535M535 212H600M590 110H652V245H590M630 125V240"/>
<text x="402" y="240" style="font-size:24px;font-weight:bold" textLength="72" lengthAdjust="spacingAndGlyphs">HOUR</text>
<text x="592" y="242" style="font-size:24px;font-weight:bold" textLength="50" lengthAdjust="spacingAndGlyphs">L90</text>
<rect class="n" x="337" y="330" width="346" height="215" rx="15" style="stroke-dasharray:27 7"/>
<rect class="n" x="343" y="345" width="45" height="32"/><rect class="n" x="632" y="345" width="45" height="32"/>
<rect class="n" x="343" y="502" width="45" height="32"/><rect class="n" x="632" y="502" width="45" height="32"/>
<path d="M430 352H588V388H640V490H582V525H435V490H378V388H430Z" style="stroke-width:3.4"/>
<path d="M368 378V495M650 378V495M460 342H560M460 537H560"/>
<rect class="k" x="413" y="458" width="55" height="8"/><rect class="k" x="552" y="458" width="55" height="8"/>
<path d="M440 525V560M578 490V560"/>
</g>
</svg>
</body></html>
